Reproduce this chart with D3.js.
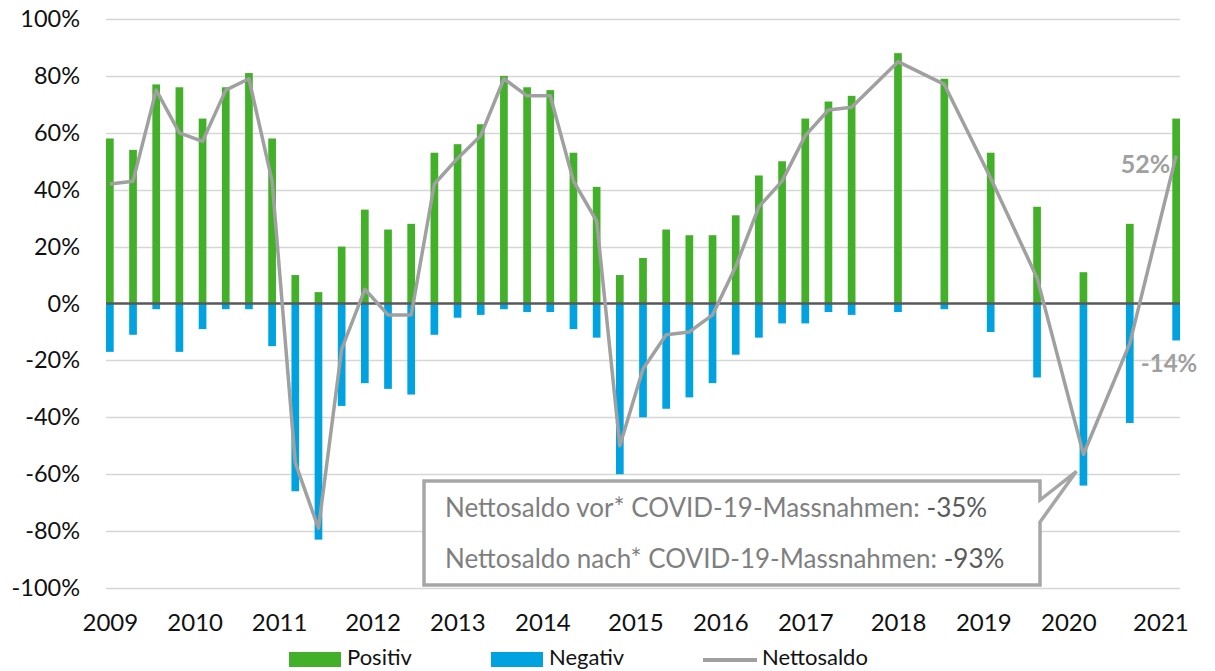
<!DOCTYPE html>
<html>
<head>
<meta charset="utf-8">
<script src="https://cdn.jsdelivr.net/npm/d3@7"></script>
<style>
  body { margin: 0; background: #fff; }
  svg { display: block; font-family: Lato, "Open Sans", sans-serif; }
</style>
</head>
<body>
<svg id="chart" width="1215" height="671"></svg>
<script>
// survey index (quarterly until 2017, half-yearly afterwards)
const periods = [0, 1, 2, 3, 4, 5, 6, 7, 8, 9, 10, 11, 12, 13, 14, 15, 16, 17, 18, 19,
  20, 21, 22, 23, 24, 25, 26, 27, 28, 29, 30, 31, 32, 34, 36, 38, 40, 42, 44, 46];

const positiv = [58, 54, 77, 76, 65, 76, 81, 58, 10, 4, 20, 33, 26, 28, 53, 56, 63, 80, 76, 75,
  53, 41, 10, 16, 26, 24, 24, 31, 45, 50, 65, 71, 73, 88, 79, 53, 34, 11, 28, 65];

const negativ = [-17, -11, -2, -17, -9, -2, -2, -15, -66, -83, -36, -28, -30, -32, -11, -5, -4, -2, -3, -3,
  -9, -12, -60, -40, -37, -33, -28, -18, -12, -7, -7, -3, -4, -3, -2, -10, -26, -64, -42, -13];

const nettosaldo = [42, 43, 75, 60, 57, 75, 79, 43, -56, -79, -16, 5, -4, -4, 42, 51, 59, 79, 73, 73,
  43, 29, -50, -23, -11, -10, -4, 13, 34, 43, 59, 68, 69, 85, 77, 44, 9, -53, -14, 52];

const yearTicks = [0, 3.66, 7.3, 11.33, 14.99, 18.66, 22.67, 26.34, 30, 34, 37.68, 41.35, 45.32];
const yearLabels = ['2009', '2010', '2011', '2012', '2013', '2014', '2015', '2016', '2017', '2018', '2019', '2020', '2021'];

const yTicks = [-100, -80, -60, -40, -20, 0, 20, 40, 60, 80, 100];

const calloutLines = [
  { text: 'Nettosaldo vor* COVID-19-Massnahmen: ', value: '-35%' },
  { text: 'Nettosaldo nach* COVID-19-Massnahmen: ', value: '-93%' }
];

const colors = {
  pos: '#43b02a',
  neg: '#00a3e0',
  net: '#a0a0a0',
  zero: '#595959',
  grid: '#d6d6d6'
};

const svg = d3.select('#chart');
const plot = { left: 106, right: 1180, top: 19, bottom: 588 };
const barW = 7.7;

const x = d3.scaleLinear().domain([0, 46]).range([plot.left + barW / 2, plot.right - barW / 2]);
const y = d3.scaleLinear().domain([-100, 100]).range([plot.bottom, plot.top]);

const rows = periods.map((p, i) => ({ p, pos: positiv[i], neg: negativ[i], net: nettosaldo[i] }));

// grid
svg.append('g')
  .selectAll('line')
  .data(yTicks.filter(d => d !== 0))
  .enter()
  .append('line')
  .attr('x1', plot.left)
  .attr('x2', plot.right)
  .attr('y1', d => Math.round(y(d)) + 0.5)
  .attr('y2', d => Math.round(y(d)) + 0.5)
  .attr('stroke', colors.grid)
  .attr('stroke-width', 1.5);

// y labels
const yAxis = d3.axisLeft(y).tickValues(yTicks).tickFormat(d => d + '%').tickSize(0).tickPadding(0);
svg.append('g')
  .attr('transform', `translate(80,0)`)
  .call(yAxis)
  .call(g => g.select('.domain').remove())
  .selectAll('text')
  .attr('font-family', 'Lato, sans-serif')
  .attr('font-size', 23.5)
  .attr('fill', '#111');

// x labels
const xAxis = d3.axisBottom(x).tickValues(yearTicks).tickFormat((d, i) => yearLabels[i]).tickSize(0).tickPadding(0);
svg.append('g')
  .attr('transform', `translate(0,614)`)
  .call(xAxis)
  .call(g => g.select('.domain').remove())
  .selectAll('text')
  .attr('font-family', 'Lato, sans-serif')
  .attr('font-size', 24)
  .attr('fill', '#111');

// bars
svg.append('g')
  .selectAll('rect')
  .data(rows)
  .enter()
  .append('rect')
  .attr('x', d => x(d.p) - barW / 2)
  .attr('width', barW)
  .attr('y', d => y(d.pos))
  .attr('height', d => y(0) - y(d.pos))
  .attr('fill', colors.pos);

svg.append('g')
  .selectAll('rect')
  .data(rows)
  .enter()
  .append('rect')
  .attr('x', d => x(d.p) - barW / 2)
  .attr('width', barW)
  .attr('y', y(0))
  .attr('height', d => y(d.neg) - y(0))
  .attr('fill', colors.neg);

// zero line
svg.append('line')
  .attr('x1', plot.left)
  .attr('x2', plot.right)
  .attr('y1', y(0))
  .attr('y2', y(0))
  .attr('stroke', colors.zero)
  .attr('stroke-width', 2.5);

// nettosaldo
const line = d3.line().x(d => x(d.p)).y(d => y(d.net));
svg.append('path')
  .datum(rows)
  .attr('d', line)
  .attr('fill', 'none')
  .attr('stroke', colors.net)
  .attr('stroke-width', 3.5)
  .attr('stroke-linejoin', 'round');

// end labels
const last = rows[rows.length - 1];
const prev = rows[rows.length - 2];
svg.append('text')
  .attr('x', x(last.p) - 6)
  .attr('y', y(last.net) + 17)
  .attr('text-anchor', 'end')
  .attr('font-size', 25)
  .attr('font-weight', 'bold')
  .attr('fill', colors.net)
  .text(last.net + '%');
svg.append('text')
  .attr('x', x(prev.p) + 11)
  .attr('y', y(prev.net) + 29)
  .attr('font-size', 24)
  .attr('font-weight', 'bold')
  .attr('fill', colors.net)
  .text(prev.net + '%');

// callout
const covid = rows.find(d => d.p === 42);
const tipX = x(covid.p) - 7;
const tipY = y(covid.net) + 17;
const box = { x0: 424, x1: 1040, y0: 481, y1: 585 };
svg.append('path')
  .attr('d', `M${box.x0},${box.y0}H${box.x1}V500L${tipX},${tipY}L${box.x1},522V${box.y1}H${box.x0}Z`)
  .attr('fill', '#fff')
  .attr('stroke', '#a6a6a6')
  .attr('stroke-width', 3.5);

const ct = svg.append('g')
  .selectAll('text')
  .data(calloutLines)
  .enter()
  .append('text')
  .attr('x', 445)
  .attr('y', (d, i) => 517 + i * 51)
  .attr('font-size', 26)
  .attr('fill', '#7f7f7f');
ct.append('tspan').text(d => d.text);
ct.append('tspan').attr('fill', '#595959').text(d => d.value);

// legend
const legend = svg.append('g').attr('font-size', 22).attr('fill', '#111');
legend.append('rect').attr('x', 289).attr('y', 652).attr('width', 52).attr('height', 15).attr('fill', colors.pos);
legend.append('text').attr('x', 347).attr('y', 665).text('Positiv');
legend.append('rect').attr('x', 491).attr('y', 652).attr('width', 52).attr('height', 15).attr('fill', colors.neg);
legend.append('text').attr('x', 549).attr('y', 665).text('Negativ');
legend.append('line').attr('x1', 703).attr('x2', 757).attr('y1', 660).attr('y2', 660)
  .attr('stroke', colors.net).attr('stroke-width', 4);
legend.append('text').attr('x', 762).attr('y', 665).text('Nettosaldo');
</script>
</body>
</html>
